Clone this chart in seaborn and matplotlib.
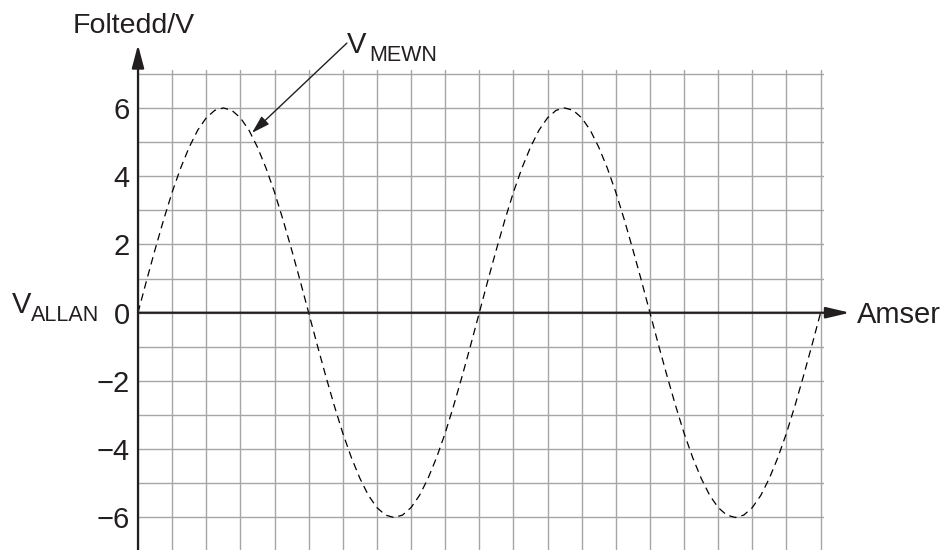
import matplotlib
matplotlib.use("Agg")
import matplotlib.pyplot as plt
import seaborn as sns

# gwerthoedd wedi'u darllen o'r graff (amser mewn sgwariau grid, foltedd mewn V)
amser = [
    0.00, 0.25, 0.50, 0.75, 1.00, 1.25, 1.50, 1.75, 2.00, 2.25,
    2.50, 2.75, 3.00, 3.25, 3.50, 3.75, 4.00, 4.25, 4.50, 4.75,
    5.00, 5.25, 5.50, 5.75, 6.00, 6.25, 6.50, 6.75, 7.00, 7.25,
    7.50, 7.75, 8.00, 8.25, 8.50, 8.75, 9.00, 9.25, 9.50, 9.75,
    10.00, 10.25, 10.50, 10.75, 11.00, 11.25, 11.50, 11.75, 12.00, 12.25,
    12.50, 12.75, 13.00, 13.25, 13.50, 13.75, 14.00, 14.25, 14.50, 14.75,
    15.00, 15.25, 15.50, 15.75, 16.00, 16.25, 16.50, 16.75, 17.00, 17.25,
    17.50, 17.75, 18.00, 18.25, 18.50, 18.75, 19.00, 19.25, 19.50, 19.75,
    20.00,
]
foltedd = [
    0.00, 0.94, 1.85, 2.72, 3.53, 4.24, 4.85, 5.35, 5.71, 5.93,
    6.00, 5.93, 5.71, 5.35, 4.85, 4.24, 3.53, 2.72, 1.85, 0.94,
    0.00, -0.94, -1.85, -2.72, -3.53, -4.24, -4.85, -5.35, -5.71, -5.93,
    -6.00, -5.93, -5.71, -5.35, -4.85, -4.24, -3.53, -2.72, -1.85, -0.94,
    0.00, 0.94, 1.85, 2.72, 3.53, 4.24, 4.85, 5.35, 5.71, 5.93,
    6.00, 5.93, 5.71, 5.35, 4.85, 4.24, 3.53, 2.72, 1.85, 0.94,
    0.00, -0.94, -1.85, -2.72, -3.53, -4.24, -4.85, -5.35, -5.71, -5.93,
    -6.00, -5.93, -5.71, -5.35, -4.85, -4.24, -3.53, -2.72, -1.85, -0.94,
    0.00,
]
y_ticks = [-6, -4, -2, 0, 2, 4, 6]
y_grid = [-7, -5, -3, -1, 1, 3, 5, 7]
x_grid = list(range(0, 21))

sns.set_style("white")
plt.rcParams["font.family"] = ["Liberation Sans", "DejaVu Sans"]

W, H = 946, 550
fig = plt.figure(figsize=(W / 100, H / 100), dpi=100)
ax = fig.add_axes([138 / W, -1.6 / H, 686 / W, 481.2 / H])

sns.lineplot(x=amser, y=foltedd, ax=ax, color="black", linewidth=0.9,
             linestyle=(0, (6, 4)), sort=False, estimator=None, zorder=4)

ax.set_xlim(0, 20.1)
ax.set_ylim(-7, 7.1)
ax.set_xticks(x_grid)
ax.set_xticklabels([])
ax.set_yticks(y_ticks)
ax.set_yticks(y_grid, minor=True)
ax.set_yticklabels([f"\u2212{-v}" if v < 0 else str(v) for v in y_ticks])
ax.tick_params(axis="both", which="both", length=0)
ax.tick_params(axis="y", labelsize=21, pad=6, colors="#231f20")
ax.grid(True, which="both", color="#a6a6a6", linewidth=1.0)
for s in ax.spines.values():
    s.set_visible(False)

# echelinau gyda saethau
ax.annotate("", xy=(0, 7.85), xytext=(0, -7.1), annotation_clip=False,
            arrowprops=dict(arrowstyle="-|>,head_length=1.4,head_width=0.37",
                            color="#231f20", lw=1.6, shrinkA=0, shrinkB=0), zorder=5)
ax.annotate("", xy=(20.86, 0), xytext=(0, 0), annotation_clip=False,
            arrowprops=dict(arrowstyle="-|>,head_length=1.45,head_width=0.34",
                            color="#231f20", lw=1.6, shrinkA=0, shrinkB=0), zorder=5)
# saeth label V_MEWN
ax.annotate("", xy=(3.34, 5.27), xytext=(6.12, 7.9), annotation_clip=False,
            arrowprops=dict(arrowstyle="-|>,head_length=1.1,head_width=0.33",
                            color="#231f20", lw=1.0, shrinkA=0, shrinkB=0), zorder=5)


def ftext(x, y, s, size):
    fig.text(x / W, 1 - y / H, s, fontsize=size, color="#231f20",
             ha="left", va="baseline")


ftext(73, 33, "Foltedd/V", 20.5)
ftext(347, 53, "V", 21)
ftext(369, 61, "MEWN", 15.5)
ftext(12, 313, "V", 21)
ftext(31, 321, "ALLAN", 15.5)
ftext(857, 323, "Amser", 21)

fig.savefig("out.png", dpi=100)
